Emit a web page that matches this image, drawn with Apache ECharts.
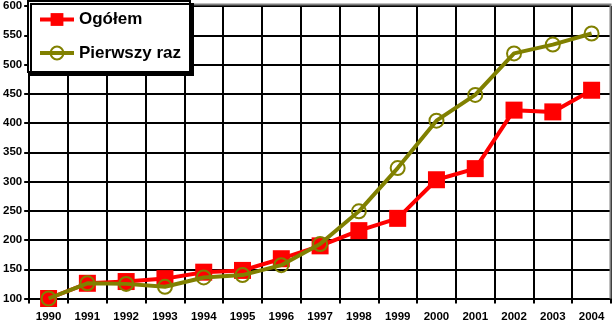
<!DOCTYPE html>
<html>
<head>
<meta charset="utf-8">
<script src="https://cdn.jsdelivr.net/npm/echarts@6/dist/echarts.min.js"></script>
<style>
  html, body { margin: 0; padding: 0; background: #fff; }
  #chart { width: 612px; height: 324px; }
</style>
</head>
<body>
<div id="chart"></div>
<script>
// Years on the category axis
var years = ['1990', '1991', '1992', '1993', '1994', '1995', '1996', '1997',
             '1998', '1999', '2000', '2001', '2002', '2003', '2004'];

// Index values per series
var ogolem = [100, 126, 129, 134, 145, 148, 168, 190, 216, 237, 303, 322, 422, 419, 456];
var pierwszyRaz = [100, 126, 125, 120, 136, 140, 157, 193, 249, 323, 404, 448, 519, 534, 553];

// Value axis range and step
var yMin = 100, yMax = 600, yStep = 50;

var labelFont = {
  fontFamily: '"Liberation Sans Narrow", "Liberation Sans", Arial, sans-serif',
  fontWeight: 'bold',
  fontSize: 11.5,
  color: '#000'
};

var chart = echarts.init(document.getElementById('chart'), null, { renderer: 'canvas' });

chart.setOption({
  animation: false,
  backgroundColor: '#fff',
  grid: { left: 27, right: 1, top: 4.5, bottom: 25.5, containLabel: false },
  xAxis: {
    type: 'category',
    data: years,
    boundaryGap: true,
    axisLine: { show: true, lineStyle: { color: '#000', width: 2 } },
    axisTick: { show: true, length: 5, lineStyle: { color: '#000', width: 2 } },
    axisLabel: Object.assign({ margin: 12, interval: 0 }, labelFont),
    splitLine: { show: true, lineStyle: { color: '#000', width: 2 } }
  },
  yAxis: {
    type: 'value',
    min: yMin,
    max: yMax,
    interval: yStep,
    axisLine: { show: true, lineStyle: { color: '#000', width: 2 } },
    axisTick: { show: true, length: 5, lineStyle: { color: '#000', width: 2 } },
    axisLabel: Object.assign({ margin: 7 }, labelFont),
    splitLine: { show: true, lineStyle: { color: '#000', width: 2 } }
  },
  legend: {
    orient: 'vertical',
    left: 38,
    top: 9.5,
    z: 20,
    itemWidth: 34,
    itemHeight: 16,
    itemGap: 13.5,
    padding: 0,
    lineStyle: { width: 4 },
    textStyle: {
      fontFamily: 'Arial, "Liberation Sans", sans-serif',
      fontWeight: 'bold',
      fontSize: 17,
      lineHeight: 20,
      color: '#000'
    },
    data: ['Ogółem', 'Pierwszy raz']
  },
  graphic: [
    {
      // legend frame with a hard drop shadow
      type: 'rect',
      z: 10,
      shape: { x: 28, y: 1, width: 162, height: 71 },
      style: {
        fill: '#fff',
        stroke: '#000',
        lineWidth: 2,
        shadowBlur: 0,
        shadowOffsetX: 3,
        shadowOffsetY: 3,
        shadowColor: '#000'
      }
    },
    {
      // grey frame along the top and right of the plot
      type: 'polyline',
      z: 9,
      shape: { points: [[190, 4.5], [610.5, 4.5], [610.5, 298.5]] },
      style: { stroke: '#808080', lineWidth: 2, fill: null }
    }
  ],
  series: [
    {
      name: 'Ogółem',
      type: 'line',
      data: ogolem,
      z: 2,
      symbol: 'rect',
      symbolSize: 17,
      lineStyle: { color: '#ff0000', width: 4 },
      itemStyle: { color: '#ff0000' }
    },
    {
      name: 'Pierwszy raz',
      type: 'line',
      data: pierwszyRaz,
      z: 3,
      symbol: 'circle',
      symbolSize: 14,
      lineStyle: { color: '#808000', width: 4 },
      itemStyle: { color: 'rgba(0,0,0,0)', borderColor: '#808000', borderWidth: 2 }
    }
  ]
});
</script>
</body>
</html>
